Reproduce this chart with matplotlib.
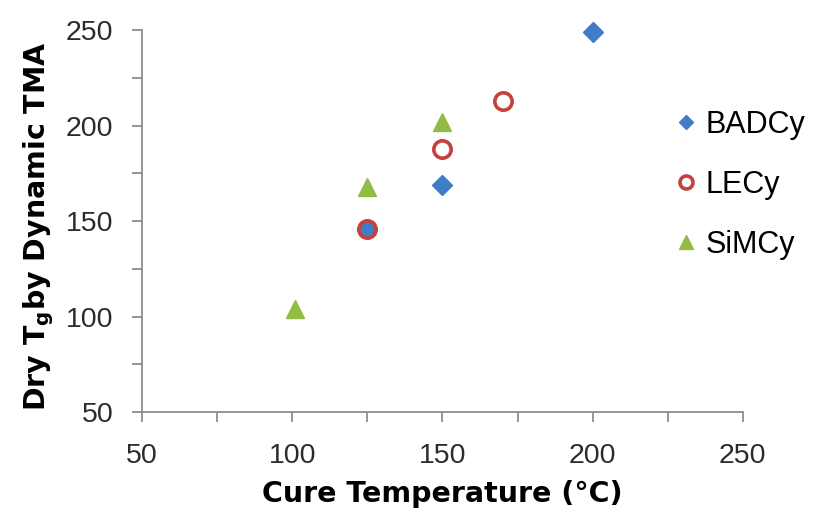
import matplotlib.pyplot as plt
from matplotlib.ticker import MultipleLocator

plt.rcParams['font.family'] = ['Liberation Sans', 'DejaVu Sans']
plt.rcParams['mathtext.fontset'] = 'custom'
plt.rcParams['mathtext.rm'] = 'DejaVu Sans:bold'
plt.rcParams['mathtext.it'] = 'DejaVu Sans:bold'
plt.rcParams['mathtext.bf'] = 'DejaVu Sans:bold'

# data
badcy_x = [125, 150, 200]
badcy_y = [146, 169, 249]
lecy_x = [125, 150, 170]
lecy_y = [146, 188, 213]
simcy_x = [101, 125, 150]
simcy_y = [104, 168, 202]

fig = plt.figure(figsize=(8.13, 5.15), dpi=100)
ax = fig.add_axes([0.1747, 0.2, 0.739, 0.741])

ax.plot(badcy_x, badcy_y, ls='none', marker='D', ms=10, color='#3F7DC6',
        label='BADCy', clip_on=False, zorder=3)
ax.plot(lecy_x, lecy_y, ls='none', marker='o', ms=12.5, mfc='none', mec='#C6403C',
        mew=2.6, label='LECy', clip_on=False, zorder=4)
ax.plot(simcy_x, simcy_y, ls='none', marker='^', ms=13.5, color='#92BD45',
        label='SiMCy', clip_on=False, zorder=3)

ax.set_xlim(50, 250)
ax.set_ylim(50, 250)
ax.xaxis.set_major_locator(MultipleLocator(50))
ax.xaxis.set_minor_locator(MultipleLocator(25))
ax.yaxis.set_major_locator(MultipleLocator(50))
ax.yaxis.set_minor_locator(MultipleLocator(25))

for s in ['top', 'right']:
    ax.spines[s].set_visible(False)
for s in ['left', 'bottom']:
    ax.spines[s].set_color('#8C8C8C')
    ax.spines[s].set_linewidth(1.3)
ax.tick_params(which='both', direction='out', color='#8C8C8C', width=1.3, length=7.5,
               labelsize=20.5, labelcolor='#2B2B2B')
ax.tick_params(axis='x', pad=15)
ax.tick_params(axis='y', pad=13)

label_font = dict(family='DejaVu Sans', fontsize=20.5, fontweight='bold')
ax.set_xlabel('Cure Temperature (°C)', labelpad=8, **label_font)
ax.set_ylabel(r'Dry T$_\mathrm{g}$by Dynamic TMA', labelpad=7, **label_font)
ax.yaxis.label.set_y(0.486)

ax.legend(loc='upper left', bbox_to_anchor=(0.89, 0.792), frameon=False, fontsize=22,
          markerscale=0.75, handlelength=0.6, handletextpad=0.35, labelspacing=0.98,
          borderaxespad=0, borderpad=0)

fig.savefig('out.png', dpi=100)
